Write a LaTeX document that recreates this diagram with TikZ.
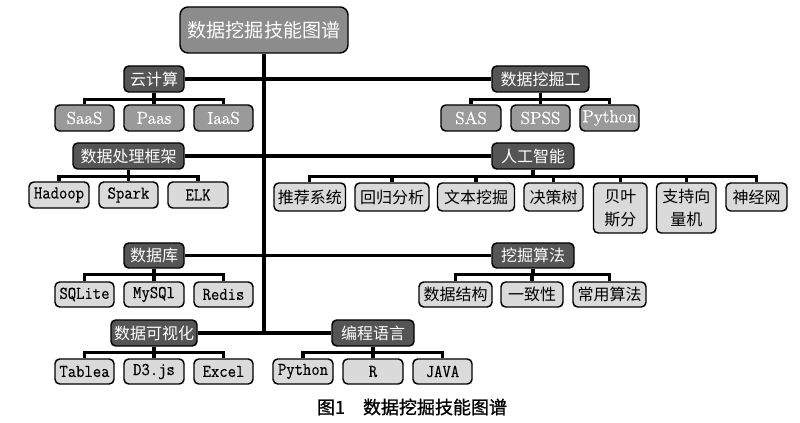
\documentclass[tikz,border=0pt]{standalone}
\usepackage{fontspec}
\newfontfamily\cjk{Noto Sans CJK SC}
\newfontfamily\capfont{Noto Sans CJK SC}[FakeBold=1]
\newfontfamily\mono{Latin Modern Mono}[FakeStretch=0.9,FakeBold=0.4]
\newfontfamily\serifw{Latin Modern Roman}[FakeBold=0.6]
\definecolor{rootgray}{HTML}{8C8C8C}
\definecolor{catgray}{HTML}{555555}
\definecolor{midgray}{HTML}{9A9A9A}
\definecolor{leafgray}{HTML}{DADADA}
\begin{document}
\begin{tikzpicture}[x=0.75pt,y=-0.75pt,
 box/.style={draw=black,line width=1.1pt,rounded corners=3.5pt,inner sep=0pt,align=center},
 sz/.style 2 args={minimum width=#1*0.75pt,minimum height=#2*0.75pt},
 rootbox/.style={box,fill=rootgray,text=white,rounded corners=6pt,font=\cjk\fontsize{14.3}{16}\selectfont},
 cat/.style={box,fill=catgray,text=white,font=\cjk\fontsize{12}{14}\selectfont},
 midbox/.style={box,fill=midgray,text=white,font=\serifw\fontsize{13}{14}\selectfont},
 leafzh/.style={box,fill=leafgray,text=black,font=\cjk\fontsize{12}{16.8}\selectfont},
 leaftt/.style={box,fill=leafgray,text=black,font=\mono\fontsize{13.5}{14}\selectfont},
 trunk/.style={line width=3pt},
 mainline/.style={line width=2.6pt},
 sub/.style={line width=2.3pt},
]
\useasboundingbox[fill=white] (0,0) rectangle (800,423);

% root
\node[rootbox,sz={168}{46}] (root) at (264,30) {数据挖掘技能图谱};

% categories
\node[cat,sz={60}{26}] (cloud) at (154,79) {云计算};
\node[cat,sz={97}{26}] (miner) at (540.5,79) {数据挖掘工};
\node[cat,sz={111}{26}] (frame) at (128.5,156) {数据处理框架};
\node[cat,sz={82}{26}] (ai) at (533,156) {人工智能};
\node[cat,sz={60}{25}] (db) at (154,255.5) {数据库};
\node[cat,sz={82}{25}] (algo) at (533,255.5) {挖掘算法};
\node[cat,sz={86}{26}] (vis) at (154,333) {数据可视化};
\node[cat,sz={82}{26}] (prog) at (373,333) {编程语言};

% cloud children
\node[midbox,sz={59}{26}] (saas) at (84.5,118) {SaaS};
\node[midbox,sz={60}{26}] (paas) at (154,118) {Paas};
\node[midbox,sz={59}{26}] (iaas) at (223.5,118) {IaaS};
% miner children
\node[midbox,sz={60}{26}] (sas) at (471,118) {SAS};
\node[midbox,sz={59}{26}] (spss) at (540.5,118) {SPSS};
\node[midbox,sz={59}{26}] (pyone) at (609.5,118) {Python};
% frame children
\node[leaftt,sz={60}{26}] (hadoop) at (59,195) {Hadoop};
\node[leaftt,sz={59}{26}] (spark) at (128.5,195) {Spark};
\node[leaftt,sz={60}{26}] (elk) at (198,195) {ELK};
% ai children
\node[leafzh,sz={71.5}{28}] (rec) at (309.75,197) {推荐系统};
\node[leafzh,sz={74}{28}] (reg) at (392,197) {回归分析};
\node[leafzh,sz={77}{28}] (text) at (476,197) {文本挖掘};
\node[leafzh,sz={59}{28}] (tree) at (553.5,197) {决策树};
\node[leafzh,sz={53.5}{50}] (bayes) at (620.25,208) {贝叶\\斯分};
\node[leafzh,sz={59.5}{50}] (svm) at (686.25,208) {支持向\\量机};
\node[leafzh,sz={61}{28}] (nn) at (756.5,197) {神经网};
% db children
\node[leaftt,sz={59}{25}] (sqlite) at (84.5,294.5) {SQLite};
\node[leaftt,sz={60}{25}] (mysql) at (154,294.5) {MySQl};
\node[leaftt,sz={59}{25}] (redis) at (223.5,294.5) {Redis};
% algo children
\node[leafzh,sz={73}{25}] (ds) at (455.5,294.5) {数据结构};
\node[leafzh,sz={62}{25}] (cons) at (532,294.5) {一致性};
\node[leafzh,sz={73}{25}] (common) at (609.5,294.5) {常用算法};
% vis children
\node[leaftt,sz={59}{25}] (tablea) at (84.5,371.5) {Tablea};
\node[leaftt,sz={60}{25}] (dthree) at (154,371.5) {D3.js};
\node[leaftt,sz={59}{25}] (excel) at (223.5,371.5) {Excel};
% prog children
\node[leaftt,sz={60}{25}] (pytwo) at (303,371.5) {Python};
\node[leaftt,sz={60}{25}] (rlang) at (373,371.5) {R};
\node[leaftt,sz={59}{25}] (java) at (442.5,371.5) {JAVA};

% caption
\node (cap) at (412,407) {\capfont\fontsize{13.5}{16}\selectfont 图1\hspace{1em}数据挖掘技能图谱};

% trunk and main lines
\draw[trunk] (root.south) -- (root.south |- vis.east);
\draw[mainline] (cloud.east) -- (miner.west);
\draw[mainline] (frame.east) -- (ai.west);
\draw[mainline] (db.east) -- (algo.west);
\draw[mainline] (vis.east) -- (prog.west);

% sub connectors
\foreach \c in {saas,paas,iaas} \draw[sub] (cloud.south) -- ++(0,7) -| (\c.north);
\foreach \c in {sas,spss,pyone} \draw[sub] (miner.south) -- ++(0,7) -| (\c.north);
\foreach \c in {hadoop,spark,elk} \draw[sub] (frame.south) -- ++(0,6.5) -| (\c.north);
\foreach \c in {rec,reg,text,tree,bayes,svm,nn} \draw[sub] (ai.south) -- ++(0,6.5) -| (\c.north);
\foreach \c in {sqlite,mysql,redis} \draw[sub] (db.south) -- ++(0,6) -| (\c.north);
\foreach \c in {ds,cons,common} \draw[sub] (algo.south) -- ++(0,6) -| (\c.north);
\foreach \c in {tablea,dthree,excel} \draw[sub] (vis.south) -- ++(0,6) -| (\c.north);
\foreach \c in {pytwo,rlang,java} \draw[sub] (prog.south) -- ++(0,6) -| (\c.north);
\end{tikzpicture}
\end{document}
